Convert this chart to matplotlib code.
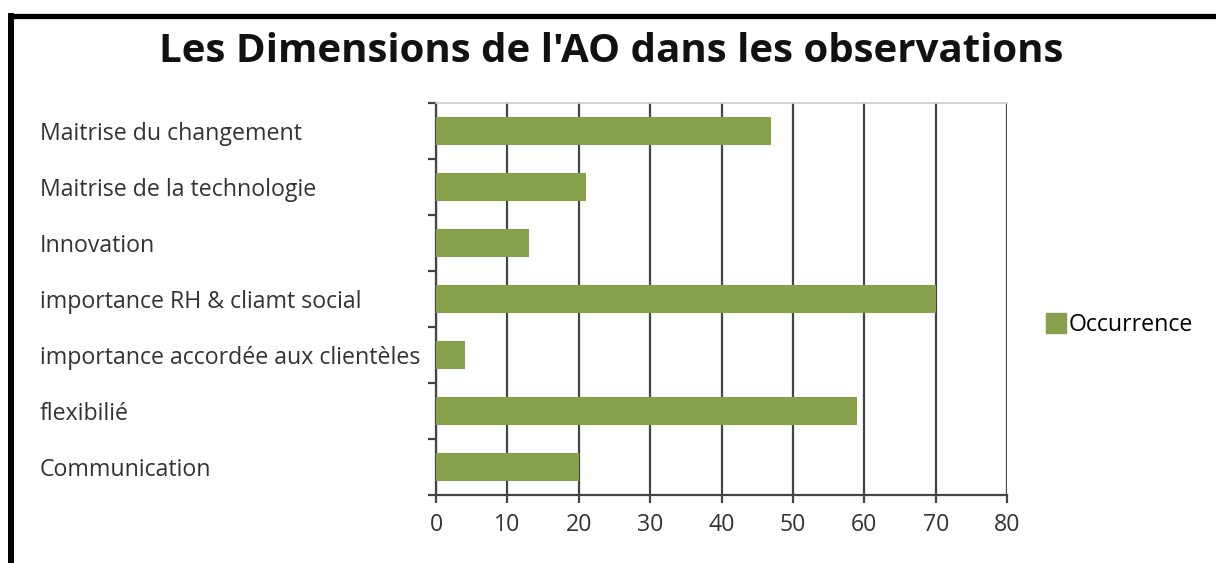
import matplotlib
matplotlib.use("Agg")
import matplotlib.pyplot as plt
from matplotlib.lines import Line2D
import numpy as np

categories = ["Maitrise du changement", "Maitrise de la technologie", "Innovation",
              "importance RH & cliamt social", "importance accordée aux clientèles",
              "flexibilié", "Communication"]
occurrence = [47, 21, 13, 70, 4, 59, 20]
xticks = [0, 10, 20, 30, 40, 50, 60, 70, 80]
series_name = "Occurrence"
title = "Les Dimensions de l'AO dans les observations"

plt.rcParams['font.family'] = ['Open Sans', 'DejaVu Sans']

W, H = 1216, 563
fig = plt.figure(figsize=(W / 100, H / 100), dpi=100)
ax = fig.add_axes([436 / W, 1 - 495 / H, (1007 - 436) / W, (495 - 103) / H])

n = len(categories)
ypos = np.arange(n)[::-1]
bar_color = "#86A04C"
ax.barh(ypos, occurrence, height=0.49, color=bar_color, zorder=3)

lab_fs = 16.7
ax.set_xlim(0, 80)
ax.set_ylim(-0.5, n - 0.5)
ax.set_xticks(xticks)
ax.set_xticklabels([str(t) for t in xticks], fontsize=lab_fs, color="#333333")
ax.xaxis.grid(True, color="#444444", linewidth=1.6, zorder=1)
ax.tick_params(axis='x', length=6, width=1.6, color="#444444", pad=7)

ax.set_yticks(ypos)
ax.set_yticklabels(categories, fontsize=lab_fs, color="#333333", ha='left')
ax.tick_params(axis='y', which='major', length=0, pad=(436 - 40) * 0.72)
ax.set_yticks(np.arange(-0.5, n, 1.0), minor=True)
ax.tick_params(axis='y', which='minor', length=6, width=1.6, color="#444444")

for s in ['left', 'bottom']:
    ax.spines[s].set_color("#444444")
    ax.spines[s].set_linewidth(1.6)
ax.spines['top'].set_color("#cccccc")
ax.spines['top'].set_linewidth(1.2)
ax.spines['right'].set_visible(False)

fig.text(0.503, 1 - 52 / H, title, ha='center', va='center', fontsize=29, fontweight='bold', color="#111111")

handle = Line2D([0], [0], marker='s', linestyle='none', markersize=14,
                markerfacecolor=bar_color, markeredgecolor=bar_color)
fig.legend([handle], [series_name], loc='center left', bbox_to_anchor=(1047 / W, 1 - 325 / H),
           frameon=False, fontsize=lab_fs, handlelength=0.75, handletextpad=0.2, borderaxespad=0,
           borderpad=0)

# outer frame: top and left
fig.add_artist(Line2D([8 / W, 1.0], [1 - 15.5 / H, 1 - 15.5 / H], transform=fig.transFigure,
                      color="black", linewidth=3.8, solid_capstyle='butt'))
fig.add_artist(Line2D([11 / W, 11 / W], [1 - 13 / H, 0], transform=fig.transFigure,
                      color="black", linewidth=4.3, solid_capstyle='butt'))

fig.savefig("out.png", dpi=100)
